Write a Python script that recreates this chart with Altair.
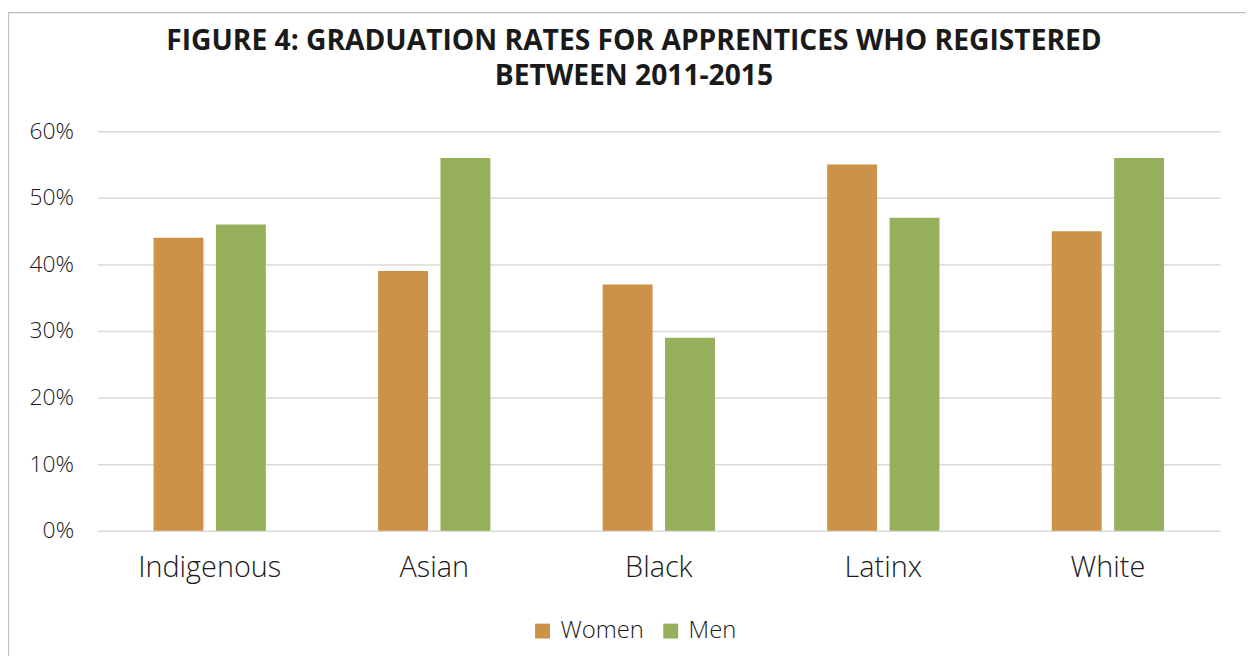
import altair as alt
import pandas as pd

groups = ["Indigenous", "Asian", "Black", "Latinx", "White"]
sexes = ["Women", "Men"]
women = [0.44, 0.39, 0.37, 0.55, 0.45]
men = [0.46, 0.56, 0.29, 0.47, 0.56]
y_ticks = [0, 0.1, 0.2, 0.3, 0.4, 0.5, 0.6]
colors = ["#CC9248", "#96AF5A"]

rows = []
for g, w, m in zip(groups, women, men):
    rows.append({"group": g, "sex": "Women", "value": w})
    rows.append({"group": g, "sex": "Men", "value": m})
df = pd.DataFrame(rows)

FONT = "Open Sans"
TXT = "#1a1a1a"

bars = alt.Chart(df).mark_bar().encode(
    x=alt.X("group:N", sort=groups,
            scale=alt.Scale(paddingInner=0.5, paddingOuter=0.25),
            axis=alt.Axis(title=None, labelAngle=0, ticks=False, domain=False,
                          labelFontSize=29, labelFont=FONT, labelColor=TXT,
                          labelFontWeight=300,
                          labelPadding=23, grid=False)),
    xOffset=alt.XOffset("sex:N", sort=sexes, scale=alt.Scale(paddingInner=0.2)),
    y=alt.Y("value:Q", scale=alt.Scale(domain=[0, 0.6]),
            axis=alt.Axis(title=None, format=".0%", values=y_ticks, ticks=False,
                          domain=False, labelFontSize=23, labelFont=FONT,
                          labelFontWeight=300,
                          labelColor=TXT, labelPadding=24, gridColor="#D9D9D9",
                          gridWidth=1.5)),
    color=alt.Color("sex:N", sort=sexes,
                    scale=alt.Scale(domain=sexes, range=colors),
                    legend=alt.Legend(title=None, orient="none", legendX=436,
                                      legendY=491, direction="horizontal",
                                      symbolType="square", symbolSize=225,
                                      symbolStrokeWidth=0, labelFontSize=24,
                                      labelFont=FONT, labelColor=TXT,
                                      labelFontWeight=300,
                                      labelOffset=6, columnPadding=14,
                                      padding=0)),
)

frame_df = pd.DataFrame({"k": [0]})
frame = alt.Chart(frame_df).mark_rect(fill=None, stroke="#BFBFBF", strokeWidth=1.2).encode(
    x=alt.value(-89.5), x2=alt.value(1170), y=alt.value(-119.5), y2=alt.value(540)
)

chart = alt.layer(frame, bars).properties(
    width=1130, height=402,
    padding={"left": 90, "top": 122, "right": 26, "bottom": 124},
    autosize=alt.AutoSizeParams(type="none"),
    title=alt.TitleParams(
        ["FIGURE 4: GRADUATION RATES FOR APPRENTICES WHO REGISTERED", "BETWEEN 2011-2015"],
        font=FONT, fontSize=28.4, fontWeight="bold", color=TXT, anchor="middle",
        frame="group", dx=-25, dy=80, offset=0, lineHeight=35,
    ),
).configure_view(stroke=None)

chart.save("out.html", embed_options={"renderer": "svg", "actions": False})
